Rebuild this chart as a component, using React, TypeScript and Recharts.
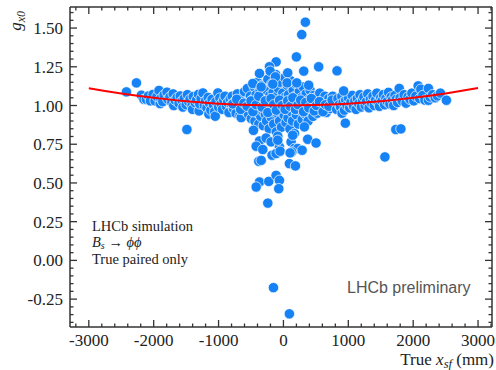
import React from "react";
import { ComposedChart, Scatter, XAxis, YAxis } from "recharts";

// True x_sf (mm) vs g_x0
const leftBand: [number, number][] = [
  [-2420, 1.088], [-2266, 1.146], [-2190, 1.067], [-2150, 1.04], [-2112, 1.04], [-2080, 1.062],
  [-2050, 1.03], [-2010, 1.072], [-1980, 1.03], [-1950, 1.058], [-1918, 1.097], [-1900, 1.012],
  [-1890, 1.045], [-1860, 1.025], [-1840, 1.068], [-1795, 1.086], [-1780, 1.04], [-1750, 1.055],
  [-1720, 1.02], [-1700, 1.075], [-1690, 1.0], [-1670, 1.035], [-1640, 1.05], [-1610, 1.015],
  [-1590, 1.062], [-1560, 1.03], [-1550, 0.99], [-1530, 1.045], [-1500, 1.005], [-1480, 1.07],
  [-1460, 1.025], [-1440, 1.04], [-1410, 0.998], [-1400, 0.975], [-1390, 1.058], [-1360, 1.018],
  [-1340, 1.035], [-1310, 1.072], [-1300, 0.965], [-1290, 1.01], [-1270, 1.045], [-1241, 1.081],
  [-1220, 1.0], [-1200, 1.03], [-1180, 0.985], [-1160, 1.052], [-1150, 0.945], [-1140, 1.015],
  [-1120, 0.97], [-1100, 1.04], [-1080, 1.005], [-1060, 0.96], [-1051, 0.931], [-1040, 1.025],
  [-1010, 1.081], [-1000, 0.99], [-980, 1.048], [-960, 1.01], [-940, 0.975], [-920, 1.035],
  [-900, 1.06], [-880, 0.995], [-860, 1.02], [-840, 0.955], [-820, 1.042], [-800, 1.005],
];

const coreBand: [number, number][] = [
  [-790, 1.06], [-770, 0.98], [-750, 1.025], [-730, 0.95], [-710, 1.075], [-690, 1.0],
  [-670, 0.935], [-651, 0.922], [-640, 1.045], [-620, 0.99], [-600, 1.09], [-585, 0.965],
  [-570, 1.02], [-555, 1.11], [-540, 0.945], [-525, 1.0], [-510, 1.06], [-495, 0.915],
  [-480, 1.035], [-465, 0.98], [-450, 1.12], [-440, 0.9], [-430, 1.01], [-420, 1.07],
  [-410, 0.955], [-400, 1.15], [-390, 1.04], [-380, 0.88], [-370, 0.99], [-360, 1.095],
  [-350, 0.93], [-340, 1.025], [-330, 1.13], [-320, 0.965], [-310, 0.87], [-300, 1.06],
  [-290, 1.005], [-280, 0.945], [-270, 1.1], [-260, 0.9], [-250, 1.035], [-240, 1.17],
  [-230, 0.975], [-220, 0.85], [-210, 1.065], [-200, 1.01], [-190, 0.925], [-180, 1.14],
  [-170, 0.96], [-160, 1.085], [-150, 0.88], [-140, 1.03], [-130, 0.99], [-120, 1.2],
  [-110, 0.83], [-100, 1.06], [-90, 0.95], [-80, 1.11], [-70, 1.0], [-60, 0.9],
  [-50, 1.15], [-40, 1.04], [-30, 0.86], [-20, 0.975], [-10, 1.08], [0, 1.02],
  [10, 0.94], [20, 1.18], [30, 1.055], [40, 0.89], [50, 0.995], [60, 1.13],
  [70, 0.92], [80, 1.07], [90, 1.01], [100, 0.85], [110, 1.16], [120, 0.96],
  [130, 1.04], [140, 0.9], [150, 1.1], [160, 0.99], [170, 0.82], [180, 1.06],
  [190, 1.14], [200, 0.94], [215, 1.025], [230, 0.88], [245, 1.09], [260, 0.97],
  [275, 1.05], [290, 0.91], [305, 1.12], [320, 1.0], [335, 0.945], [350, 1.075],
  [365, 0.985], [380, 0.9], [395, 1.04], [410, 1.1], [425, 0.96], [440, 1.02],
  [455, 0.93], [470, 1.065], [485, 0.99], [500, 1.05], [520, 0.95], [540, 1.01],
  [560, 1.08], [580, 0.97], [600, 1.03], [620, 0.99], [640, 1.06], [660, 0.955],
  [680, 1.02], [700, 1.045], [720, 0.98], [740, 1.01], [760, 1.06], [780, 0.995], [800, 1.03],
];

const coreDense: [number, number][] = [
  [-780, 1.01], [-720, 1.04], [-660, 0.975], [-610, 1.015], [-560, 0.995], [-500, 1.03],
  [-470, 0.96], [-420, 1.005], [-380, 1.06], [-330, 0.99], [-280, 1.03], [-240, 0.955],
  [-190, 1.045], [-150, 1.005], [-110, 0.97], [-60, 1.035], [-20, 1.0], [25, 0.975],
  [65, 1.03], [105, 0.995], [145, 1.05], [185, 0.975], [225, 1.005], [265, 1.035],
  [310, 0.96], [345, 1.02], [390, 0.985], [430, 1.045], [475, 0.965], [510, 1.0],
  [555, 1.025], [610, 0.96], [650, 1.005], [700, 0.995], [750, 1.035],
];

const rightBand: [number, number][] = [
  [820, 0.975], [840, 1.045], [860, 1.005], [880, 0.99], [900, 1.06], [903, 0.95],
  [920, 1.02], [940, 0.97], [960, 1.035], [980, 1.0], [1000, 1.05], [1020, 0.985],
  [1040, 1.02], [1060, 1.065], [1080, 0.995], [1100, 1.03], [1120, 0.975], [1140, 1.045],
  [1160, 1.01], [1180, 1.07], [1200, 0.99], [1220, 1.035], [1240, 1.055], [1260, 1.0],
  [1280, 1.025], [1300, 1.075], [1320, 0.985], [1340, 1.04], [1360, 1.015], [1380, 1.06],
  [1400, 1.0], [1420, 1.035], [1440, 1.08], [1460, 1.02], [1480, 0.995], [1500, 1.05],
  [1520, 1.03], [1540, 1.07], [1560, 1.005], [1580, 1.045], [1600, 1.025], [1620, 1.085],
  [1640, 1.01], [1660, 1.055], [1680, 1.035], [1700, 1.0], [1720, 1.065], [1740, 1.04],
  [1760, 1.02], [1785, 1.11], [1800, 1.05], [1830, 1.03], [1860, 1.07], [1890, 1.015],
  [1920, 1.055], [1950, 1.04], [1980, 1.08], [2010, 1.03], [2040, 1.06], [2077, 1.127],
  [2100, 1.045], [2118, 1.105], [2150, 1.065], [2180, 1.035], [2235, 1.11], [2235, 1.034],
  [2260, 1.055], [2300, 1.07], [2340, 1.05], [2374, 1.062], [2420, 1.08], [2512, 1.034],
];

const outliers: [number, number][] = [
  [-1488, 0.845], [338, 1.538], [282, 1.458], [200, 1.314], [543, 1.25], [826, 1.224],
  [-113, 1.282], [-215, 1.25], [-205, 1.222], [-369, 1.207], [313, 1.222], [66, 1.211],
  [389, 1.131], [-123, 1.185], [-472, 1.142], [-343, 1.12], [-164, 1.138], [57, 1.146],
  [205, 1.146], [928, 1.094], [954, 0.886], [1733, 0.845], [1810, 0.849], [1564, 0.668],
  [-462, 0.84], [-369, 0.771], [-267, 0.79], [-420, 0.737], [-318, 0.716], [-190, 0.765],
  [-87, 0.802], [-62, 0.733], [-87, 0.776], [-175, 0.679], [-113, 0.69], [-51, 0.705],
  [-380, 0.64], [-343, 0.646], [118, 0.765], [143, 0.808], [169, 0.722], [220, 0.722],
  [288, 0.711], [323, 0.862], [374, 0.782], [503, 0.758], [92, 0.625], [185, 0.61],
  [128, 0.7], [103, 0.694], [-369, 0.506], [-420, 0.474], [-226, 0.51], [-113, 0.549],
  [-62, 0.517], [-72, 0.463], [-241, 0.37], [-154, -0.176], [92, -0.345],
];

// red fit curve
const curveX = [
  -3000, -2750, -2500, -2250, -2000, -1750, -1500, -1250, -1000, -750, -500, -250, 0,
  250, 500, 750, 1000, 1250, 1500, 1750, 2000, 2250, 2500, 2750, 3000,
];
const curveY = [
  1.112, 1.094, 1.078, 1.063, 1.05, 1.038, 1.028, 1.019, 1.012, 1.007, 1.003, 1.001, 1.0,
  1.001, 1.003, 1.007, 1.012, 1.019, 1.028, 1.038, 1.05, 1.063, 1.078, 1.095, 1.113,
];

const xTicks = [
  -3200, -3000, -2800, -2600, -2400, -2200, -2000, -1800, -1600, -1400, -1200, -1000, -800, -600,
  -400, -200, 0, 200, 400, 600, 800, 1000, 1200, 1400, 1600, 1800, 2000, 2200, 2400, 2600, 2800,
  3000, 3200,
];
const yTicks = [
  -0.4, -0.35, -0.3, -0.25, -0.2, -0.15, -0.1, -0.05, 0, 0.05, 0.1, 0.15, 0.2, 0.25, 0.3, 0.35,
  0.4, 0.45, 0.5, 0.55, 0.6, 0.65, 0.7, 0.75, 0.8, 0.85, 0.9, 0.95, 1.0, 1.05, 1.1, 1.15, 1.2,
  1.25, 1.3, 1.35, 1.4, 1.45, 1.5, 1.55, 1.6,
];

const points = [...leftBand, ...coreBand, ...coreDense, ...rightBand, ...outliers].map(([x, y]) => ({ x, y }));
const curve = curveX.map((x, i) => ({ x, y: curveY[i] }));

const AXIS = "#333333";
const SERIF = "'Liberation Serif', 'Times New Roman', serif";
const DOT = "#1582f5";
const X_DOMAIN: [number, number] = [-3290, 3215];
const Y_DOMAIN: [number, number] = [-0.43, 1.636];

const isMajorX = (v: number) => v % 1000 === 0;
const isMajorY = (v: number) => Math.abs(v * 4 - Math.round(v * 4)) < 1e-6;

const XTick = (props: any) => {
  const { x, y, payload, side } = props;
  const major = isMajorX(payload.value);
  const len = major ? 7 : 3.5;
  const dir = side === "bottom" ? -1 : 1;
  return (
    <g>
      <path d={`M${x},${y}V${y + dir * len}`} style={{ stroke: AXIS, strokeWidth: 1.3 }} />
      {side === "bottom" && major && (
        <text x={x} y={y + 19} textAnchor="middle" fontFamily={SERIF} fontSize={17} fill="#222">
          {String(payload.value)}
        </text>
      )}
    </g>
  );
};

const YTick = (props: any) => {
  const { x, y, payload, side } = props;
  const major = isMajorY(payload.value);
  const len = major ? 7 : 3.5;
  const dir = side === "left" ? 1 : -1;
  return (
    <g>
      <path d={`M${x},${y}H${x + dir * len}`} style={{ stroke: AXIS, strokeWidth: 1.3 }} />
      {side === "left" && major && (
        <text x={x - 7} y={y + 6} textAnchor="end" fontFamily={SERIF} fontSize={17} fill="#222">
          {payload.value.toFixed(2)}
        </text>
      )}
    </g>
  );
};

const Dot = (p: any) => (
  <circle cx={p.cx} cy={p.cy} r={5.2} fill={DOT} stroke="#ffffff" strokeWidth={0.7} />
);
const NoDot = () => <g />;

export default function App() {
  return (
    <div style={{ position: "fixed", left: 0, top: 0, width: 496, height: 370, background: "#fff" }}>
      <ComposedChart width={496} height={370} margin={{ top: 0, right: 0, bottom: 0, left: 0 }}>
        <XAxis
          dataKey="x"
          type="number"
          domain={X_DOMAIN}
          ticks={xTicks}
          interval={0}
          height={43}
          tickSize={0}
          tickMargin={0}
          tickLine={false}
          axisLine={{ stroke: AXIS, strokeWidth: 1.5 }}
          tick={(p: any) => <XTick {...p} side="bottom" />}
          allowDataOverflow
        />
        <XAxis
          xAxisId="top"
          orientation="top"
          dataKey="x"
          type="number"
          domain={X_DOMAIN}
          ticks={xTicks}
          interval={0}
          height={7}
          tickSize={0}
          tickMargin={0}
          tickLine={false}
          axisLine={{ stroke: AXIS, strokeWidth: 1.5 }}
          tick={(p: any) => <XTick {...p} side="top" />}
          allowDataOverflow
        />
        <YAxis
          type="number"
          domain={Y_DOMAIN}
          ticks={yTicks}
          interval={0}
          width={70}
          tickSize={0}
          tickMargin={0}
          tickLine={false}
          axisLine={{ stroke: AXIS, strokeWidth: 1.5 }}
          tick={(p: any) => <YTick {...p} side="left" />}
          allowDataOverflow
        />
        <YAxis
          yAxisId="right"
          orientation="right"
          type="number"
          domain={Y_DOMAIN}
          ticks={yTicks}
          interval={0}
          width={4}
          tickSize={0}
          tickMargin={0}
          tickLine={false}
          axisLine={{ stroke: AXIS, strokeWidth: 1.5 }}
          tick={(p: any) => <YTick {...p} side="right" />}
          allowDataOverflow
        />
        <Scatter data={points} dataKey="y" shape={Dot} isAnimationActive={false} />
        <Scatter
          data={curve}
          dataKey="y"
          shape={NoDot}
          line={{ stroke: "#ff0000", strokeWidth: 2 }}
          lineType="joint"
          isAnimationActive={false}
        />
      </ComposedChart>
      <svg
        width={496}
        height={370}
        style={{ position: "absolute", left: 0, top: 0, pointerEvents: "none" }}
      >
        <text
          transform="translate(21,11) rotate(-90)"
          textAnchor="end"
          fontFamily={SERIF}
          fontStyle="italic"
          fontSize={17}
          fill="#222"
        >
          g<tspan fontSize={12} dy={4}>x0</tspan>
        </text>
        <text x={494} y={365} textAnchor="end" fontFamily={SERIF} fontSize={17} fill="#222">
          True <tspan fontStyle="italic">x</tspan>
          <tspan fontStyle="italic" fontSize={12.5} dy={3}>sf</tspan>
          <tspan dy={-3}> (mm)</tspan>
        </text>
        <g fontFamily={SERIF} fontSize={14.5} fill="#222">
          <text x={92} y={231}>LHCb simulation</text>
          <text x={92} y={247}>
            <tspan fontStyle="italic">B</tspan>
            <tspan fontStyle="italic" fontSize={10} dy={2}>s</tspan>
            <tspan dy={-2}> → </tspan>
            <tspan fontStyle="italic">ϕϕ</tspan>
          </text>
          <text x={92} y={264}>True paired only</text>
        </g>
        <text x={347} y={293} fontFamily="'Liberation Sans', Arial, sans-serif" fontSize={16} fill="#555">
          LHCb preliminary
        </text>
      </svg>
    </div>
  );
}
